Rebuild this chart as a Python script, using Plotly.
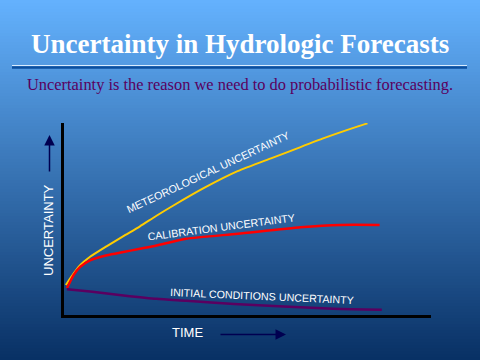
import plotly.graph_objects as go

# ---- data (time, uncertainty) ----
met_t = [0.05, 0.17, 0.44, 0.71, 1.17, 1.62, 2.07, 2.52, 2.97, 3.83, 4.73, 5.64, 6.18, 7.08, 7.99, 8.27]
met_u = [1.56, 1.91, 2.59, 3.03, 3.59, 4.11, 4.62, 5.17, 5.69, 6.63, 7.49, 8.16, 8.55, 9.21, 9.81, 9.98]

cal_t = [0.08, 0.26, 0.44, 0.71, 1.17, 1.62, 2.07, 2.52, 3.33, 4.73, 6.45, 7.53, 8.60]
cal_u = [1.39, 2.08, 2.51, 2.85, 3.11, 3.28, 3.45, 3.62, 3.97, 4.23, 4.57, 4.69, 4.69]

ini_t = [0.08, 0.71, 1.62, 2.52, 3.33, 4.63, 7.34, 8.66]
ini_u = [1.34, 1.22, 1.02, 0.84, 0.74, 0.57, 0.32, 0.27]

title_text = "Uncertainty in Hydrologic Forecasts"
subtitle_text = "Uncertainty is the reason we need to do probabilistic forecasting."
label_met = "METEOROLOGICAL UNCERTAINTY"
label_cal = "CALIBRATION UNCERTAINTY"
label_ini = "INITIAL CONDITIONS UNCERTAINTY"

W, H = 480, 360
PL, PR, PT, PB = 64, 431, 123, 315


def px(x):
    return (x - PL) / (PR - PL)


def py(y):
    return (PB - y) / (PB - PT)


fig = go.Figure()
fig.add_trace(go.Scatter(x=met_t, y=met_u, mode="lines",
                         line=dict(color="#FFCC00", width=2, shape="spline", smoothing=0.6), hoverinfo="skip"))
fig.add_trace(go.Scatter(x=cal_t, y=cal_u, mode="lines",
                         line=dict(color="#FF0000", width=2.5, shape="spline", smoothing=0.6), hoverinfo="skip"))
fig.add_trace(go.Scatter(x=ini_t, y=ini_u, mode="lines",
                         line=dict(color="#5A0060", width=2.5, shape="spline", smoothing=0.6), hoverinfo="skip"))

# background gradient
shapes = []
top = (100, 178, 254)
bot = (8, 48, 100)
N = 120
for i in range(N):
    f = (i + 0.5) / N
    c = tuple(int(round(top[k] + (bot[k] - top[k]) * f)) for k in range(3))
    y0 = i * H / N
    y1 = (i + 1) * H / N + 0.6
    shapes.append(dict(type="rect", xref="paper", yref="paper", layer="below",
                       x0=px(-5), x1=px(W + 5), y0=py(y1), y1=py(y0),
                       line=dict(width=0), fillcolor="rgb(%d,%d,%d)" % c))
# title rule
shapes.append(dict(type="line", xref="paper", yref="paper", x0=px(12), x1=px(467), y0=py(67.5), y1=py(67.5),
                   line=dict(color="#0A4E9E", width=2.5)))
shapes.append(dict(type="line", xref="paper", yref="paper", x0=px(12), x1=px(467), y0=py(65.5), y1=py(65.5),
                   line=dict(color="#D8ECFF", width=1)))


def label(text, x, y, size, color, family="Liberation Sans", angle=0):
    return dict(text=text, x=px(x), y=py(y), xref="paper", yref="paper", xanchor="center", yanchor="middle",
                textangle=angle, showarrow=False, font=dict(family=family, size=size, color=color))


ann = []
ann.append(label("<b>" + title_text + "</b>", 240, 44, 27, "white", "Liberation Serif"))
ann.append(label(subtitle_text, 240, 85, 16.4, "#5A005E", "Liberation Serif"))
ann.append(label(label_met, 208, 172, 10.7, "white", angle=-25))
ann.append(label(label_cal, 221, 227, 10.7, "white", angle=-7.5))
ann.append(label(label_ini, 262, 296, 10.7, "white", angle=2.5))
ann.append(label("UNCERTAINTY", 48, 230, 13, "white", angle=-90))
ann.append(label("TIME", 187, 332, 13, "white"))
# arrows
ann.append(dict(text="", x=px(49.5), y=py(135), xref="paper", yref="paper", ax=0, ay=38,
                showarrow=True, arrowhead=2, arrowsize=1.4, arrowwidth=1.5, arrowcolor="#000050"))
ann.append(dict(text="", x=px(286), y=py(334.5), xref="paper", yref="paper", ax=-67, ay=0,
                showarrow=True, arrowhead=2, arrowsize=1.4, arrowwidth=1.5, arrowcolor="#000050"))

fig.update_layout(
    width=W, height=H, autosize=False,
    margin=dict(l=PL, r=W - PR, t=PT, b=H - PB, pad=0),
    paper_bgcolor="rgb(8,48,100)", plot_bgcolor="rgba(0,0,0,0)",
    showlegend=False, shapes=shapes, annotations=ann,
    xaxis=dict(range=[0, 10], showline=True, linecolor="black", linewidth=3, showgrid=False,
               zeroline=False, showticklabels=False, ticks="", fixedrange=True),
    yaxis=dict(range=[0, 10], showline=True, linecolor="black", linewidth=3, showgrid=False,
               zeroline=False, showticklabels=False, ticks="", fixedrange=True),
)
fig.write_html("out.html", config={"displayModeBar": False},
               post_script="document.body.style.margin='0';document.body.style.overflow='hidden';")
